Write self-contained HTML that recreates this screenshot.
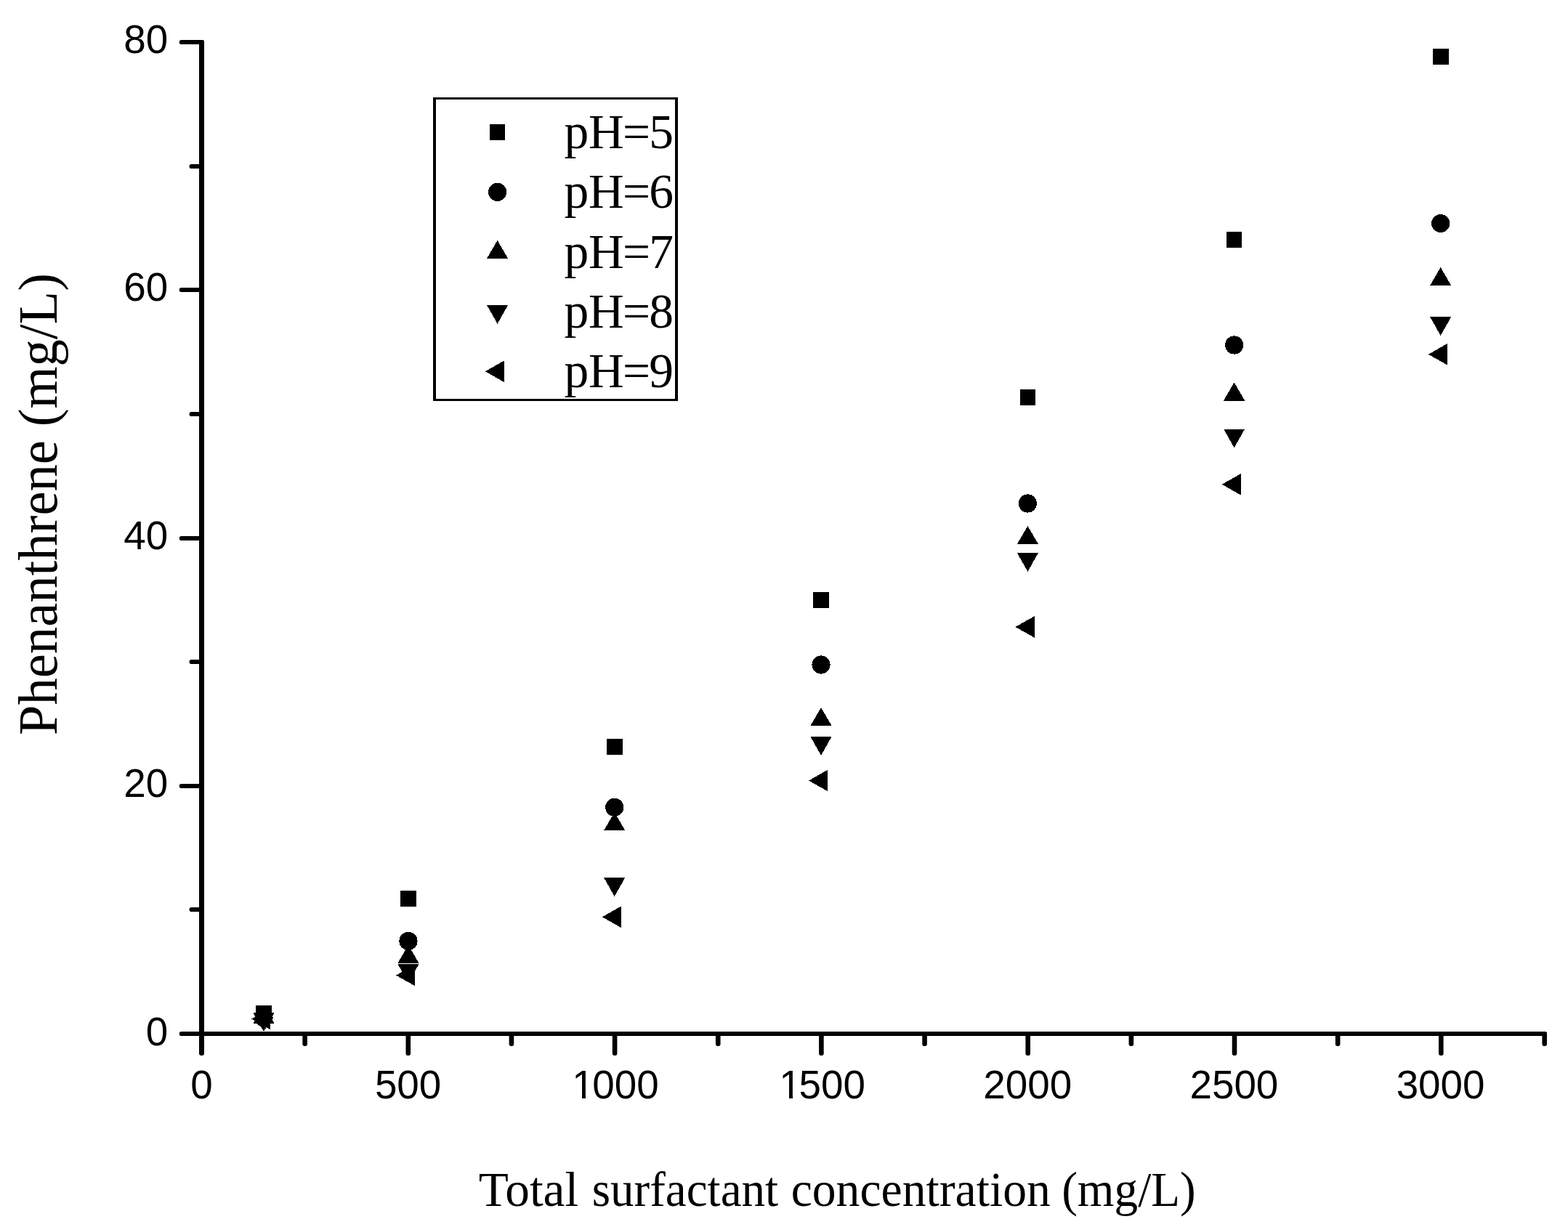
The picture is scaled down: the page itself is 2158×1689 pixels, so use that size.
<!DOCTYPE html>
<html lang="en">
<head>
<meta charset="utf-8">
<style>
html,body{margin:0;padding:0;background:#fff;}
body{width:2158px;height:1689px;overflow:hidden;position:relative;}
svg{position:absolute;left:0;top:0;display:block;}
.tick{font-family:"Liberation Sans",sans-serif;font-size:54.8px;fill:#000;}
.title{font-family:"Liberation Serif",serif;font-size:67.8px;fill:#000;}
.leg{font-family:"Liberation Serif",serif;font-size:67.5px;fill:#000;}
</style>
</head>
<body>
<svg width="2158" height="1689" viewBox="0 0 2158 1689">
<rect x="0" y="0" width="2158" height="1689" fill="#ffffff"/>

<g fill="#000" stroke="none">
<rect x="274.0" y="55.00" width="7" height="1398.00" rx="3.2"/>
<rect x="246.8" y="1420.0" width="1882.20" height="6" rx="2.8"/>
<rect x="260.6" y="1249" width="20.40" height="6" rx="2.8"/>
<rect x="246.8" y="1079" width="34.20" height="6" rx="2.8"/>
<rect x="260.6" y="908" width="20.40" height="6" rx="2.8"/>
<rect x="246.8" y="738" width="34.20" height="6" rx="2.8"/>
<rect x="260.6" y="567" width="20.40" height="6" rx="2.8"/>
<rect x="246.8" y="396" width="34.20" height="6" rx="2.8"/>
<rect x="260.6" y="226" width="20.40" height="6" rx="2.8"/>
<rect x="246.8" y="55" width="34.20" height="6" rx="2.8"/>
<rect x="416.35" y="1420.0" width="6.6" height="20.00" rx="3"/>
<rect x="558.50" y="1420.0" width="6.6" height="33.00" rx="3"/>
<rect x="700.65" y="1420.0" width="6.6" height="20.00" rx="3"/>
<rect x="842.80" y="1420.0" width="6.6" height="33.00" rx="3"/>
<rect x="984.95" y="1420.0" width="6.6" height="20.00" rx="3"/>
<rect x="1127.10" y="1420.0" width="6.6" height="33.00" rx="3"/>
<rect x="1269.25" y="1420.0" width="6.6" height="20.00" rx="3"/>
<rect x="1411.40" y="1420.0" width="6.6" height="33.00" rx="3"/>
<rect x="1553.55" y="1420.0" width="6.6" height="20.00" rx="3"/>
<rect x="1695.70" y="1420.0" width="6.6" height="33.00" rx="3"/>
<rect x="1837.85" y="1420.0" width="6.6" height="20.00" rx="3"/>
<rect x="1980.00" y="1420.0" width="6.6" height="33.00" rx="3"/>
<rect x="2122.40" y="1420.0" width="6.6" height="20.00" rx="3"/>
</g>
<g class="tick">
<text x="231.3" y="1438.60" text-anchor="end">0</text>
<text x="231.3" y="1096.75" text-anchor="end">20</text>
<text x="231.3" y="755.50" text-anchor="end">40</text>
<text x="231.3" y="414.25" text-anchor="end">60</text>
<text x="231.3" y="73.00" text-anchor="end">80</text>
<text x="277.40" y="1512" text-anchor="middle">0</text>
<text x="561.60" y="1512" text-anchor="middle">500</text>
<text x="787.15 815.32 845.80 876.28" y="1512">1000</text>
<text x="1072.25 1099.52 1130.00 1160.48" y="1512">1500</text>
<text x="1414.20" y="1512" text-anchor="middle">2000</text>
<text x="1698.40" y="1512" text-anchor="middle">2500</text>
<text x="1982.60" y="1512" text-anchor="middle">3000</text>
</g>
<g fill="#fff" shape-rendering="crispEdges">
<rect x="789.65" y="1506.5" width="11.40" height="6.5"/>
<rect x="805.85" y="1506.5" width="10.20" height="6.5"/>
<rect x="1074.75" y="1506.5" width="11.40" height="6.5"/>
<rect x="1090.95" y="1506.5" width="10.20" height="6.5"/>
</g>
<text class="title" y="1659.7"><tspan x="658.81" textLength="137.42" lengthAdjust="spacingAndGlyphs">Total</tspan> <tspan x="814.68" textLength="256.46" lengthAdjust="spacingAndGlyphs">surfactant</tspan> <tspan x="1088.66" textLength="357.21" lengthAdjust="spacingAndGlyphs">concentration</tspan> <tspan x="1461.18" textLength="184.6" lengthAdjust="spacingAndGlyphs">(mg/L)</tspan></text>
<text class="title" style="font-size:76.5px" transform="translate(78,1012.1) rotate(-90)" textLength="636.1" lengthAdjust="spacingAndGlyphs">Phenanthrene (mg/L)</text>
<g fill="#000" shape-rendering="crispEdges"><rect x="596" y="134" width="337" height="3"/><rect x="596" y="549" width="337" height="3"/><rect x="596" y="134" width="4" height="418"/><rect x="929" y="134" width="4" height="418"/></g>
<g fill="#000" shape-rendering="crispEdges">
<rect x="673.80" y="171.20" width="21.6" height="21.6"/>
<circle cx="684.60" cy="264.40" r="12.6"/>
<polygon points="684.60,330.90 699.20,355.90 670.00,355.90"/>
<polygon points="684.60,445.70 699.20,419.90 670.00,419.90"/>
<polygon points="667.80,511.20 693.80,496.40 693.80,526.00"/>
</g>
<g class="leg">
<text x="776.4 810 857.1 893.3" y="204.0">pH=5</text>
<text x="776.4 810 857.1 893.3" y="286.3">pH=6</text>
<text x="776.4 810 857.1 893.3" y="368.6">pH=7</text>
<text x="776.4 810 857.1 893.3" y="450.9">pH=8</text>
<text x="776.4 810 857.1 893.3" y="533.2">pH=9</text>
</g>
<g fill="#000" shape-rendering="crispEdges">
<rect x="352.20" y="1384.20" width="21.6" height="21.6"/>
<rect x="551.20" y="1226.20" width="21.6" height="21.6"/>
<rect x="834.90" y="1017.20" width="21.6" height="21.6"/>
<rect x="1119.20" y="815.20" width="21.6" height="21.6"/>
<rect x="1403.60" y="536.20" width="21.6" height="21.6"/>
<rect x="1687.80" y="318.95" width="21.6" height="21.6"/>
<rect x="1971.90" y="66.95" width="21.6" height="21.6"/>
<circle cx="363.00" cy="1401.00" r="12.6"/>
<circle cx="562.00" cy="1295.40" r="12.6"/>
<circle cx="845.70" cy="1111.30" r="12.6"/>
<circle cx="1130.00" cy="915.00" r="12.6"/>
<circle cx="1414.40" cy="693.00" r="12.6"/>
<circle cx="1698.60" cy="475.00" r="12.6"/>
<circle cx="1982.70" cy="307.50" r="12.6"/>
<polygon points="363.00,1383.75 377.60,1408.75 348.40,1408.75"/>
<polygon points="562.00,1300.80 576.60,1325.80 547.40,1325.80"/>
<polygon points="845.70,1118.10 860.30,1143.10 831.10,1143.10"/>
<polygon points="1130.00,974.00 1144.60,999.00 1115.40,999.00"/>
<polygon points="1414.40,724.00 1429.00,749.00 1399.80,749.00"/>
<polygon points="1698.60,526.50 1713.20,551.50 1684.00,551.50"/>
<polygon points="1982.70,368.00 1997.30,393.00 1968.10,393.00"/>
<polygon points="363.00,1420.00 377.60,1394.20 348.40,1394.20"/>
<polygon points="562.00,1352.80 576.60,1327.00 547.40,1327.00"/>
<polygon points="845.70,1233.90 860.30,1208.10 831.10,1208.10"/>
<polygon points="1130.00,1039.80 1144.60,1014.00 1115.40,1014.00"/>
<polygon points="1414.40,786.80 1429.00,761.00 1399.80,761.00"/>
<polygon points="1698.60,616.30 1713.20,590.50 1684.00,590.50"/>
<polygon points="1982.70,461.90 1997.30,436.10 1968.10,436.10"/>
<polygon points="346.20,1402.50 372.20,1387.70 372.20,1417.30"/>
<polygon points="545.20,1342.50 571.20,1327.70 571.20,1357.30"/>
<polygon points="828.90,1262.20 854.90,1247.40 854.90,1277.00"/>
<polygon points="1113.20,1074.50 1139.20,1059.70 1139.20,1089.30"/>
<polygon points="1397.60,863.00 1423.60,848.20 1423.60,877.80"/>
<polygon points="1681.80,666.75 1707.80,651.95 1707.80,681.55"/>
<polygon points="1965.90,487.75 1991.90,472.95 1991.90,502.55"/>
</g>
</svg>
</body>
</html>
